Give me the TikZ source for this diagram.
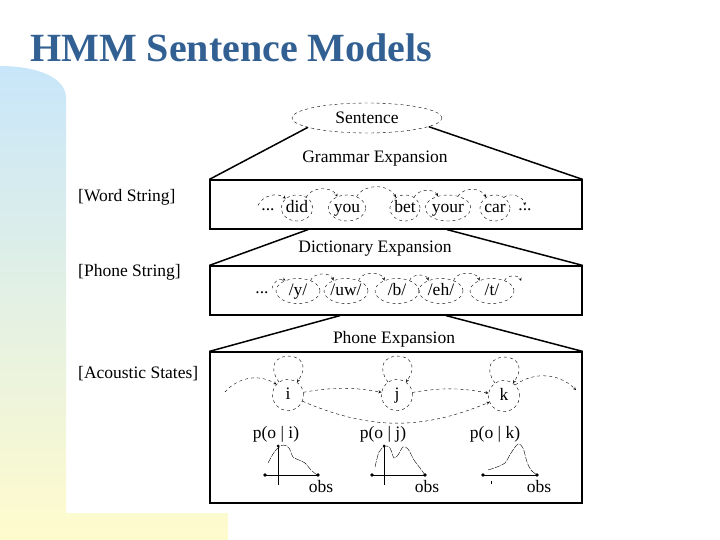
\documentclass[tikz,border=0pt]{standalone}
\usepackage{fontspec}
\setmainfont{Liberation Serif}
\usepackage{tikz}
\usetikzlibrary{shapes.geometric,positioning}

\definecolor{titleblue}{RGB}{50,96,146}
\definecolor{bandtop}{RGB}{200,230,250}
\definecolor{bandbot}{RGB}{255,251,205}

\begin{document}
\begin{tikzpicture}[x=1pt,y=1pt,>=stealth,font=\fontsize{17.5}{20}\selectfont]
  \tikzstyle{layerbox}=[draw,line width=1.2pt,minimum width=372pt,inner sep=0pt]
  \tikzstyle{expand}=[line width=1.5pt]
  \tikzstyle{topnode}=[ellipse,draw,dashed,minimum width=150pt,minimum height=30pt]
  \tikzstyle{wordnode}=[ellipse,draw,dashed,thin,inner sep=0pt,text height=11pt,text depth=3pt,minimum width=30pt,minimum height=26pt]
  \tikzstyle{phonenode}=[ellipse,draw,dashed,thin,inner sep=0pt,text height=12pt,text depth=3pt,minimum width=44pt,minimum height=25pt]
  \tikzstyle{statenode}=[circle,draw,dashed,thin,inner sep=0pt,text height=11pt,text depth=3pt,minimum size=31pt]
  \tikzstyle{arc}=[dashed,thin]
  \tikzstyle{levellabel}=[anchor=west,inner sep=0pt]
  \tikzstyle{dens}=[dash pattern=on 6pt off 1.2pt,thin]

  \useasboundingbox (0,0) rectangle (720,-540);
  \shade[top color=bandtop,bottom color=bandbot]
    (0,-540) -- (0,-66) .. controls (34,-66) and (66,-76) .. (66,-98)
    -- (66,-513) -- (228,-513) -- (228,-540) -- cycle;

  \node[anchor=base west,inner sep=0pt,text=titleblue,
    font=\fontsize{40}{44}\selectfont\bfseries] (title) at (30,-62) {HMM Sentence Models};

  % levels
  \node[levellabel] (lword) at (78,-197) {[Word String]};
  \node[levellabel] (lphone) at (78,-272) {[Phone String]};
  \node[levellabel] (lstate) at (78,-374) {[Acoustic States]};

  \node[topnode] (sentence) at (367,-118) {Sentence};
  \node[layerbox,minimum height=49pt] (wordbox) at (396,-204.5) {};
  \node[layerbox,minimum height=49pt] (phonebox) at (396,-290.5) {};
  \node[layerbox,minimum height=151pt] (statebox) at (396,-427.5) {};

  \draw[expand] (sentence.189) -- (wordbox.north west);
  \draw[expand] (sentence.352) -- (wordbox.north east);
  \draw[expand] ([xshift=-88pt]wordbox.south) -- (phonebox.north west);
  \draw[expand] ([xshift=51pt]wordbox.south) -- (phonebox.north east);
  \draw[expand] ([xshift=-56pt]phonebox.south) -- (statebox.north west);
  \draw[expand] ([xshift=50pt]phonebox.south) -- (statebox.north east);

  \node (gram) at (375,-159) {Grammar Expansion};
  \node (dict) at (375,-249) {Dictionary Expansion};
  \node (phexp) at (394,-339) {Phone Expansion};

  % word string
  \node (dotsa) at (268,-210) {...};
  \node[wordnode] (did) at (297,-208) {did};
  \node[wordnode] (you) at (347,-208) {you};
  \node[wordnode] (bet) at (405,-208) {bet};
  \node[wordnode] (your) at (448,-208) {your};
  \node[wordnode] (car) at (495,-208) {car};
  \node (dotsb) at (525,-210) {...};

  \path[->,arc]
    (dotsa.north west) edge[bend left=50] (did.140)
    (did.50) edge[bend left=60] (you.130)
    (you.50) edge[bend left=60] (bet.130)
    (bet.50) edge[bend left=60] (your.130)
    (your.50) edge[bend left=60] (car.130)
    (car.50) edge[bend left=60] (dotsb.north);

  % phone string
  \node (dotsp) at (262,-293) {...};
  \node[phonenode] (py) at (298,-291) {/y/};
  \node[phonenode] (puw) at (346,-291) {/uw/};
  \node[phonenode] (pb) at (397,-291) {/b/};
  \node[phonenode] (peh) at (441,-291) {/eh/};
  \node[phonenode] (pt) at (492,-291) {/t/};
  \coordinate (ptend) at (521,-281);

  \path[->,arc]
    (dotsp.north east) edge[bend left=60] (py.140)
    (py.40) edge[bend left=70] (puw.140)
    (puw.40) edge[bend left=70] (pb.140)
    (pb.40) edge[bend left=70] (peh.140)
    (peh.40) edge[bend left=70] (pt.140)
    (pt.40) edge[bend left=70] (ptend);

  % acoustic states
  \node[statenode] (si) at (288,-395) {i};
  \node[statenode] (sj) at (397,-395) {j};
  \node[statenode] (sk) at (504,-396) {k};
  \coordinate (sin) at (225,-392);
  \coordinate (sout) at (576,-390);

  \path[->,arc]
    (sin) edge[bend left=40] (si)
    (si) edge[out=125,in=55,looseness=6] (si)
    (sj) edge[out=125,in=55,looseness=6] (sj)
    (sk) edge[out=125,in=55,looseness=6] (sk)
    (si) edge[bend left=10] (sj)
    (sj) edge[bend left=10] (sk)
    (si) edge[bend right=23] (sk)
    (sk) edge[bend left=40] (sout);

  % output densities
  \node (pi) at (276,-434) {p(o | i)};
  \node (pj) at (383,-434) {p(o | j)};
  \node (pk) at (495,-434) {p(o | k)};
  \node (obsi) at (321,-487) {obs};
  \node (obsj) at (427,-487) {obs};
  \node (obsk) at (539,-487) {obs};

  \draw[thin] (265,-475) -- (318,-475);
  \draw[thin] (278,-446) -- (278,-485);
  \fill (265,-475) circle (1.8) (318,-475) circle (1.8) (278,-446) circle (1.5);
  \draw[dens] plot[smooth] coordinates {(268,-463) (275,-451) (283,-445) (289,-448) (293,-457) (299,-460) (305,-463) (311,-470) (317,-475)};

  \draw[thin] (372,-475) -- (425,-475);
  \draw[thin] (384,-446) -- (384,-485);
  \fill (372,-475) circle (1.8) (425,-475) circle (1.8) (384,-446) circle (1.5);
  \draw[dens] plot[smooth] coordinates {(375,-467) (379,-452) (385,-446) (390,-448) (394,-458) (398,-455) (403,-447) (408,-449) (414,-460) (420,-468) (425,-475)};

  \draw[thin] (483,-475) -- (537,-475);
  \draw[thin] (491,-481) -- (491,-484);
  \fill (483,-475) circle (1.8) (537,-475) circle (1.8);
  \draw[dens] plot[smooth] coordinates {(488,-470) (497,-467) (505,-463) (511,-453) (518,-444) (523,-448) (527,-462) (531,-470) (537,-475)};
\end{tikzpicture}
\end{document}
